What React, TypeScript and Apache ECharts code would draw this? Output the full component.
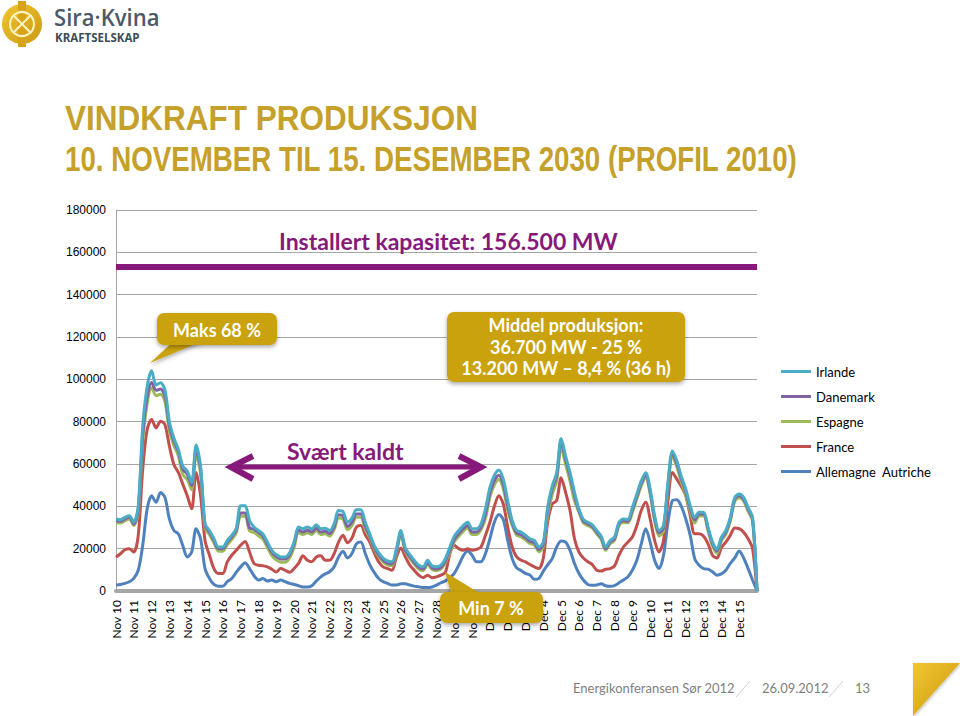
import React, { useEffect, useRef } from 'react';
import * as echarts from 'echarts';

// Days shown on the category axis (4 samples per day, 6-hour steps)
const DAYS = [
  'Nov 10', 'Nov 11', 'Nov 12', 'Nov 13', 'Nov 14', 'Nov 15', 'Nov 16', 'Nov 17', 'Nov 18', 'Nov 19',
  'Nov 20', 'Nov 21', 'Nov 22', 'Nov 23', 'Nov 24', 'Nov 25', 'Nov 26', 'Nov 27', 'Nov 28', 'Nov 29',
  'Nov 30', 'Dec 1', 'Dec 2', 'Dec 3', 'Dec 4', 'Dec 5', 'Dec 6', 'Dec 7', 'Dec 8', 'Dec 9',
  'Dec 10', 'Dec 11', 'Dec 12', 'Dec 13', 'Dec 14', 'Dec 15',
];
const Y_TICKS = [0, 20000, 40000, 60000, 80000, 100000, 120000, 140000, 160000, 180000];

// Cumulative (stacked) production, MW, as the lines appear in the chart
const IRLANDE = [
  34000, 33700, 34800, 35600, 32500, 40300, 77800, 96500, 104000, 97300, 98400, 95000,
  80000, 72300, 66900, 59000, 56700, 51300, 69000, 59000, 31700, 28600, 24700, 20800,
  20800, 23900, 26300, 29400, 40300, 40300, 33300, 30200, 28600, 27000, 23100, 19200,
  17200, 16100, 16100, 18100, 23100, 30200, 29400, 30200, 29400, 31300, 29400, 29700,
  28600, 31700, 38000, 37500, 32500, 34400, 38400, 38400, 32500, 27000, 21600, 18100,
  15600, 14200, 13800, 20000, 28600, 20300, 17200, 14500, 12200, 11400, 14500, 11900,
  11400, 12200, 15300, 20800, 25900, 28600, 30900, 32500, 29400, 29400, 31700, 38800,
  48900, 54700, 57200, 52800, 42700, 33300, 28600, 27800, 26300, 24700, 23900, 20800,
  23100, 40000, 49700, 55900, 72000, 63800, 55900, 46600, 38800, 33800, 32500, 31300,
  28600, 25900, 20800, 23900, 25500, 32500, 34000, 33800, 39500, 45800, 52000, 55900,
  48100, 35600, 28600, 30900, 51300, 66100, 61400, 54100, 48100, 40300, 34800, 37200,
  37200, 30200, 23100, 19700, 25500, 28600, 34800, 44200, 45800, 44200, 39500, 34800, 0,
];
const DANEMARK = [
  33200, 32900, 34000, 34800, 31700, 38800, 73800, 91500, 98500, 94800, 95400, 92000,
  78000, 70800, 65900, 57500, 55200, 49800, 67000, 57500, 30900, 27800, 23900, 20000,
  20000, 23100, 25500, 28600, 36800, 36800, 29800, 29200, 27600, 26000, 22100, 18200,
  16200, 15100, 15100, 17100, 22100, 28700, 27900, 28700, 27900, 29800, 27900, 28200,
  27100, 30200, 36000, 35500, 30500, 32400, 36400, 36400, 30500, 26000, 20600, 17100,
  14600, 13200, 12800, 19000, 27600, 19300, 16200, 13500, 11200, 10400, 13500, 10900,
  10400, 11200, 14300, 19300, 24400, 27100, 29400, 31000, 27900, 27900, 30200, 36300,
  46400, 52200, 54700, 50300, 40200, 32100, 27400, 26600, 25100, 23500, 22700, 19600,
  21900, 38500, 48200, 54400, 70500, 62300, 54400, 45100, 38000, 33000, 31700, 30500,
  27800, 25100, 20000, 23100, 24700, 31700, 33200, 33000, 38300, 44600, 50800, 54700,
  46900, 34400, 27400, 29700, 50100, 64900, 60200, 52900, 46900, 39100, 33600, 36400,
  36400, 29400, 22300, 18900, 24700, 27800, 34000, 43400, 45000, 43400, 38700, 34000, 0,
];
const ESPAGNE = [
  32400, 32100, 33200, 34000, 30900, 37300, 70800, 88500, 96000, 92300, 92900, 89500,
  75500, 68800, 63900, 55000, 52700, 47800, 64500, 55500, 29700, 26600, 22700, 18800,
  18800, 21900, 24300, 27400, 35300, 35300, 28300, 27700, 26100, 24500, 20600, 16700,
  14700, 13600, 13600, 15600, 20600, 27500, 26700, 27500, 26700, 28600, 26700, 27000,
  25900, 29000, 34500, 34000, 29000, 30900, 34900, 34900, 29000, 25200, 19800, 16300,
  13800, 12400, 12000, 18200, 26800, 18500, 15400, 12700, 10400, 9600, 12700, 10100,
  9600, 10400, 13500, 18100, 23200, 25900, 28200, 29800, 26700, 26700, 29000, 34300,
  44400, 50200, 52700, 48300, 38200, 31100, 26400, 25600, 24100, 22500, 21700, 18600,
  20900, 36000, 45700, 51900, 68000, 59800, 51900, 42600, 37200, 32200, 30900, 29700,
  27000, 24300, 19200, 22300, 23900, 30900, 32400, 32200, 37100, 43400, 49600, 53500,
  45700, 33200, 25900, 28200, 48600, 63400, 58700, 51400, 45400, 37600, 32100, 35400,
  35400, 28400, 21300, 17900, 23700, 26800, 33000, 42400, 44000, 42400, 37700, 33000, 0,
];
const FRANCE = [
  16000, 17600, 19500, 20000, 18400, 26300, 57500, 76300, 81000, 77000, 80200, 78600,
  68400, 59800, 56000, 50500, 45000, 38800, 56000, 45000, 23900, 16900, 10600, 8300,
  8300, 13800, 16900, 19200, 21600, 23400, 18400, 13000, 12200, 11900, 11400, 10300,
  9000, 10600, 9800, 8800, 10600, 13000, 16600, 14500, 13800, 16100, 16600, 14500,
  14500, 17600, 23100, 26300, 22800, 25000, 30200, 30900, 26600, 23100, 18100, 13800,
  11400, 10600, 9800, 16100, 20300, 16100, 12200, 9800, 7500, 6300, 7500, 6300,
  6700, 7500, 8800, 17600, 21600, 20000, 19200, 20000, 19200, 19700, 20800, 26300,
  32500, 40000, 45000, 41100, 30200, 20800, 16100, 14500, 13800, 12500, 11400, 10600,
  15600, 33000, 41100, 42700, 53500, 46600, 38000, 24700, 18400, 15600, 13800, 12500,
  9800, 9400, 10300, 10600, 11900, 16900, 20800, 23100, 25500, 30900, 38000, 41900,
  34000, 23900, 18400, 23900, 42700, 56000, 52800, 49400, 45000, 35600, 27000, 27000,
  25900, 22300, 16900, 15600, 20500, 23100, 26300, 29800, 29500, 27800, 24700, 20000, 0,
];
const ALLEMAGNE_AUTRICHE = [
  2800, 3100, 3600, 4400, 6000, 9800, 21500, 38800, 45000, 41900, 46500, 44200,
  34000, 28600, 27000, 21500, 16100, 18400, 29400, 24700, 10600, 5900, 3100, 2300,
  2300, 4400, 5900, 8800, 11400, 13400, 10600, 7200, 5200, 5900, 4700, 5200,
  4400, 5200, 4400, 3600, 3100, 2500, 1900, 1900, 2500, 4700, 6700, 8100,
  9100, 11400, 16100, 18800, 15600, 17700, 22300, 23100, 17700, 12500, 8800, 5900,
  4400, 3600, 2800, 2800, 3400, 3400, 2800, 2300, 2000, 1600, 1600, 1900,
  2800, 3900, 4800, 6300, 8300, 12200, 16600, 18900, 16900, 13800, 13800, 17700,
  24700, 32500, 36100, 33800, 23900, 15300, 10900, 9700, 8300, 7500, 5500, 5900,
  9400, 12500, 15300, 20800, 23600, 23100, 19200, 13000, 8300, 5200, 3100, 2700,
  2800, 3400, 2500, 2200, 2500, 3900, 5200, 6700, 9800, 14500, 22300, 29400,
  23100, 14500, 10600, 16900, 32500, 42700, 43100, 40000, 34000, 26300, 15300, 12200,
  10600, 10300, 9100, 7500, 8100, 9800, 13000, 15600, 18900, 15600, 10600, 5200, 0,
];
const CAPACITY_LINE = 153000;

const SERIES_NAMES = ['Irlande', 'Danemark', 'Espagne', 'France', 'Allemagne  Autriche'];
const COLORS: Record<string, string> = {
  'Irlande': '#4BACC6',
  'Danemark': '#8064A2',
  'Espagne': '#9BBB59',
  'France': '#C0504D',
  'Allemagne  Autriche': '#4F81BD',
};

const GOLD = '#C9A210';
const PURPLE = '#86197A';
const FONT = 'Lato, "Open Sans", sans-serif';

export default function App() {
  const ref = useRef<HTMLDivElement>(null);
  useEffect(() => {
    if (!ref.current) return;
    const chart = echarts.init(ref.current, null, { renderer: 'svg' });
    const categories: string[] = [];
    DAYS.forEach((d) => { categories.push(d, '', '', ''); });
    categories.push('');

    const dataByName: Record<string, number[]> = {
      'Irlande': IRLANDE,
      'Danemark': DANEMARK,
      'Espagne': ESPAGNE,
      'France': FRANCE,
      'Allemagne  Autriche': ALLEMAGNE_AUTRICHE,
    };
    const drawOrder = ['Allemagne  Autriche', 'France', 'Espagne', 'Danemark', 'Irlande'];
    const series: any[] = drawOrder.map((name) => ({
      name,
      type: 'line',
      data: dataByName[name],
      symbol: 'none',
      smooth: 0.3,
      lineStyle: { width: 3, color: COLORS[name] },
      itemStyle: { color: COLORS[name] },
      z: 3,
    }));
    series[4].markLine = {
      silent: true,
      symbol: ['none', 'none'],
      label: { show: false },
      lineStyle: { color: PURPLE, width: 6, type: 'solid' },
      data: [{ yAxis: CAPACITY_LINE }],
    };

    const goldGrad = new echarts.graphic.LinearGradient(0, 0, 1, 1, [
      { offset: 0, color: '#F2C531' },
      { offset: 1, color: '#C99A12' },
    ]);

    const box = (x: number, y: number, w: number, h: number, pointer: number[][] | null) => {
      const els: any[] = [];
      if (pointer) {
        els.push({
          type: 'polygon', z: 100,
          shape: { points: pointer },
          style: { fill: GOLD, shadowBlur: 4, shadowColor: 'rgba(0,0,0,0.35)', shadowOffsetY: 2 },
        });
      }
      els.push({
        type: 'rect', z: 101,
        shape: { x, y, width: w, height: h, r: 7 },
        style: { fill: GOLD, shadowBlur: 4, shadowColor: 'rgba(0,0,0,0.35)', shadowOffsetY: 2 },
      });
      return els;
    };
    const boxText = (x: number, y: number, text: string) => ({
      type: 'text', z: 102, x, y,
      style: {
        text, fill: '#FFFFFF', font: `bold 18px ${FONT}`,
        textAlign: 'center', textVerticalAlign: 'middle', align: 'center', verticalAlign: 'middle',
      },
    });

    chart.setOption({
      animation: false,
      backgroundColor: '#FFFFFF',
      grid: { left: 116, right: 203, top: 210, bottom: 125 },
      legend: {
        data: SERIES_NAMES,
        orient: 'vertical',
        left: 776,
        top: 360,
        icon: 'rect',
        itemWidth: 30,
        itemHeight: 3,
        itemGap: 12,
        textStyle: { fontSize: 13, color: '#000', fontFamily: FONT },
      },
      xAxis: {
        type: 'category',
        data: categories,
        boundaryGap: false,
        axisTick: { show: false },
        axisLine: { lineStyle: { color: '#A6A6A6', width: 4 } },
        axisLabel: {
          interval: 0, rotate: 90, fontSize: 12, color: '#000', margin: 9,
          fontFamily: FONT,
        },
        splitLine: { show: false },
      },
      yAxis: {
        type: 'value',
        min: Y_TICKS[0],
        max: Y_TICKS[Y_TICKS.length - 1],
        interval: Y_TICKS[1] - Y_TICKS[0],
        axisLine: { show: true, lineStyle: { color: '#A6A6A6', width: 1 } },
        axisTick: { show: false },
        axisLabel: {
          fontSize: 12, color: '#000', margin: 10, fontFamily: 'Liberation Sans, Arial, sans-serif',
          formatter: (v: number) => String(v),
        },
        splitLine: { lineStyle: { color: '#A6A6A6', width: 1 } },
      },
      series,
      graphic: [
        // logo
        { type: 'circle', shape: { cx: 22, cy: 24, r: 20 }, style: { fill: goldGrad } },
        { type: 'rect', shape: { x: 18, y: 1, width: 8, height: 46 }, style: { fill: '#D7A417' } },
        { type: 'circle', shape: { cx: 22, cy: 24, r: 12 }, style: { fill: 'none', stroke: '#FFF3C4', lineWidth: 2 } },
        { type: 'line', shape: { x1: 13, y1: 15, x2: 31, y2: 33 }, style: { stroke: '#FFF3C4', lineWidth: 2 } },
        { type: 'line', shape: { x1: 31, y1: 15, x2: 13, y2: 33 }, style: { stroke: '#FFF3C4', lineWidth: 2 } },
        {
          type: 'text', x: 54, y: 5, scaleX: 0.92,
          style: { text: 'Sira·Kvina', fill: '#4B5967', font: `600 24px "Open Sans", sans-serif`, lineHeight: 24, textVerticalAlign: 'top', verticalAlign: 'top' },
        },
        {
          type: 'text', x: 55, y: 31,
          style: { text: 'KRAFTSELSKAP', fill: '#3E4B58', font: `bold 11.5px "Open Sans", sans-serif`, lineHeight: 12, textVerticalAlign: 'top', verticalAlign: 'top' },
        },
        // titles
        {
          type: 'text', x: 65, y: 99, scaleX: 0.875,
          style: { text: 'VINDKRAFT PRODUKSJON', fill: '#C5A02A', font: 'bold 36px "Liberation Sans", Arial, sans-serif', textVerticalAlign: 'top', verticalAlign: 'top' },
        },
        {
          type: 'text', x: 65, y: 141, scaleX: 0.77,
          style: { text: '10. NOVEMBER TIL 15. DESEMBER 2030 (PROFIL 2010)', fill: '#C5A02A', font: 'bold 36px "Liberation Sans", Arial, sans-serif', textVerticalAlign: 'top', verticalAlign: 'top' },
        },
        // capacity label
        {
          type: 'text', x: 279, y: 241, z: 50,
          style: { text: 'Installert kapasitet: 156.500 MW', fill: PURPLE, font: `bold 23px ${FONT}`, textVerticalAlign: 'middle', verticalAlign: 'middle' },
        },
        // Svært kaldt
        {
          type: 'text', x: 287, y: 451, z: 50,
          style: { text: 'Svært kaldt', fill: PURPLE, font: `bold 23px ${FONT}`, textVerticalAlign: 'middle', verticalAlign: 'middle' },
        },
        { type: 'polyline', z: 50, shape: { points: [[233, 467], [479, 467]] }, style: { stroke: PURPLE, lineWidth: 5, fill: 'none' } },
        { type: 'polyline', z: 50, shape: { points: [[253, 456], [231, 467], [253, 479]] }, style: { stroke: PURPLE, lineWidth: 6, fill: 'none', lineJoin: 'miter' } },
        { type: 'polyline', z: 50, shape: { points: [[459, 456], [481, 467], [459, 479]] }, style: { stroke: PURPLE, lineWidth: 6, fill: 'none', lineJoin: 'miter' } },
        // callouts
        ...box(157, 313, 120, 32, [[175, 340], [205, 340], [150, 363]]),
        boxText(217, 330, 'Maks 68 %'),
        ...box(447, 312, 238, 70, null),
        boxText(566, 325, 'Middel produksjon:'),
        boxText(566, 347, '36.700 MW - 25 %'),
        boxText(566, 368, '13.200 MW – 8,4 % (36 h)'),
        ...box(440, 592, 103, 31, [[452, 596], [484, 596], [445, 572]]),
        boxText(491, 608, 'Min 7 %'),
        // footer
        {
          type: 'text', x: 573, y: 688,
          style: { text: 'Energikonferansen Sør 2012', fill: '#7F7F7F', font: `13px ${FONT}`, textVerticalAlign: 'middle', verticalAlign: 'middle' },
        },
        { type: 'line', shape: { x1: 736, y1: 697, x2: 750, y2: 681 }, style: { stroke: '#D0D0D0', lineWidth: 1 } },
        {
          type: 'text', x: 762, y: 688,
          style: { text: '26.09.2012', fill: '#7F7F7F', font: `13px ${FONT}`, textVerticalAlign: 'middle', verticalAlign: 'middle' },
        },
        { type: 'line', shape: { x1: 829, y1: 697, x2: 843, y2: 681 }, style: { stroke: '#D0D0D0', lineWidth: 1 } },
        {
          type: 'text', x: 855, y: 688,
          style: { text: '13', fill: '#7F7F7F', font: `13px ${FONT}`, textVerticalAlign: 'middle', verticalAlign: 'middle' },
        },
        {
          type: 'polygon', shape: { points: [[913, 663], [960, 663], [913, 716]] },
          style: { fill: goldGrad, shadowBlur: 3, shadowColor: 'rgba(0,0,0,0.25)', shadowOffsetX: 1, shadowOffsetY: 1 },
        },
      ],
    });
    return () => chart.dispose();
  }, []);
  return <div ref={ref} style={{ position: 'absolute', left: 0, top: 0, width: 960, height: 716 }} />;
}
